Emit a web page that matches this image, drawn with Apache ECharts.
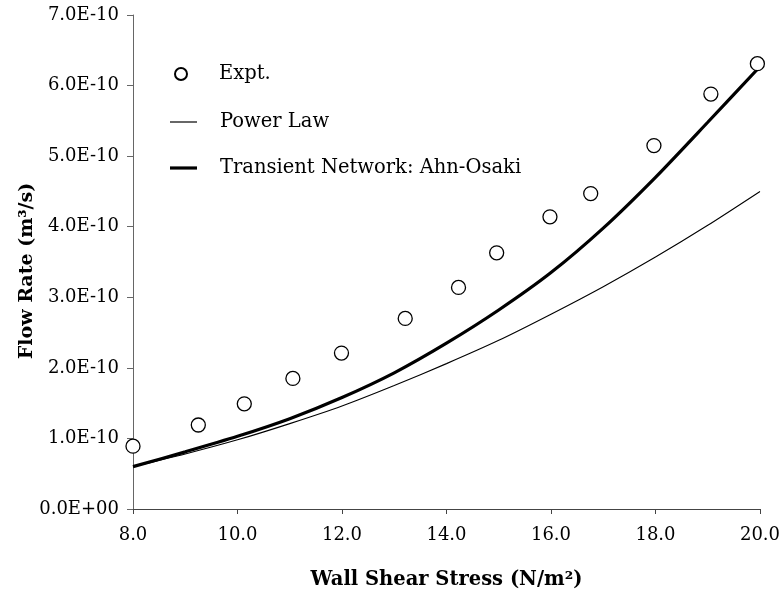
<!DOCTYPE html>
<html>
<head>
<meta charset="utf-8">
<script src="https://cdn.jsdelivr.net/npm/echarts@6/dist/echarts.min.js"></script>
<style>
html,body{margin:0;padding:0;background:#fff;}
#chart{width:782px;height:591px;}
</style>
</head>
<body>
<div id="chart"></div>
<script>
// Experimental data (Wall shear stress N/m^2, flow rate m^3/s)
const exptX = [8.0, 9.25, 10.13, 11.06, 11.99, 13.21, 14.23, 14.96, 15.98, 16.76, 17.97, 19.06, 19.95];
const exptY = [0.89e-10, 1.19e-10, 1.49e-10, 1.85e-10, 2.21e-10, 2.70e-10, 3.14e-10, 3.63e-10, 4.14e-10, 4.47e-10, 5.15e-10, 5.88e-10, 6.31e-10];

// Model curves
const modelX = [8, 9, 10, 11, 12, 13, 14, 15, 16, 17, 18, 19, 20];
const powerLawY = [0.60e-10, 0.78e-10, 0.98e-10, 1.21e-10, 1.46e-10, 1.75e-10, 2.06e-10, 2.39e-10, 2.76e-10, 3.15e-10, 3.57e-10, 4.02e-10, 4.50e-10];
const transientY = [0.60e-10, 0.81e-10, 1.03e-10, 1.28e-10, 1.58e-10, 1.93e-10, 2.35e-10, 2.82e-10, 3.35e-10, 3.98e-10, 4.70e-10, 5.48e-10, 6.27e-10];

const seriesNames = ['Expt.', 'Power Law', 'Transient Network: Ahn-Osaki'];

const FONT = 'DejaVu Serif';

function sci(v) {
  if (Math.abs(v) < 1e-20) return '0.0E+00';
  const s = v.toExponential(1);
  const parts = s.split('e');
  let e = parseInt(parts[1], 10);
  const sign = e < 0 ? '-' : '+';
  e = Math.abs(e);
  return parts[0] + 'E' + sign + (e < 10 ? '0' + e : String(e));
}

const chart = echarts.init(document.getElementById('chart'), null, {renderer: 'canvas'});

const legendText = {fontFamily: FONT, fontSize: 19.5, color: '#000', padding: [0, 0, 0, 18]};

chart.setOption({
  backgroundColor: '#fff',
  animation: false,
  grid: {left: 133, right: 22, top: 15, bottom: 82, containLabel: false, outerBoundsMode: 'none'},
  legend: [
    {data: [seriesNames[0]], orient: 'vertical', left: 169, top: 59, itemWidth: 30, itemHeight: 12,
     textStyle: legendText},
    {data: [{name: seriesNames[1], icon: 'rect'}], orient: 'vertical', left: 165, top: 107, itemWidth: 27, itemHeight: 1.2,
     itemStyle: {color: '#000'}, textStyle: legendText},
    {data: [{name: seriesNames[2], icon: 'rect'}], orient: 'vertical', left: 165, top: 153, itemWidth: 27, itemHeight: 3.2,
     itemStyle: {color: '#000'}, textStyle: legendText}
  ],
  xAxis: {
    type: 'value', min: 8, max: 20, interval: 2,
    name: 'Wall Shear Stress (N/m²)', nameLocation: 'middle', nameGap: 61, nameMoveOverlap: false,
    nameTextStyle: {fontFamily: FONT, fontSize: 19.5, fontWeight: 'bold', color: '#000'},
    axisLine: {lineStyle: {color: '#444', width: 1}},
    axisTick: {show: true, inside: false, length: 5, lineStyle: {color: '#444'}},
    axisLabel: {fontFamily: FONT, fontSize: 18, color: '#000', margin: 17, formatter: v => v.toFixed(1)},
    splitLine: {show: false}
  },
  yAxis: {
    type: 'value', min: 0, max: 7e-10, interval: 1e-10,
    name: 'Flow Rate (m³/s)', nameLocation: 'middle', nameGap: 96, nameRotate: 90, nameMoveOverlap: false,
    nameTextStyle: {fontFamily: FONT, fontSize: 19, fontWeight: 'bold', color: '#000', padding: [0, 18, 0, 0]},
    axisLine: {show: true, lineStyle: {color: '#666', width: 1}},
    axisTick: {show: true, inside: false, length: 6, lineStyle: {color: '#666'}},
    axisLabel: {fontFamily: FONT, fontSize: 18, color: '#000', margin: 14, formatter: v => sci(v)},
    splitLine: {show: false}
  },
  series: [
    {
      name: seriesNames[2], type: 'line', smooth: 0.25, showSymbol: false, symbol: 'none',
      data: modelX.map((x, i) => [x, transientY[i]]),
      lineStyle: {color: '#000', width: 3.2}, itemStyle: {color: '#000'}, z: 3
    },
    {
      name: seriesNames[1], type: 'line', smooth: 0.25, showSymbol: false, symbol: 'none',
      data: modelX.map((x, i) => [x, powerLawY[i]]),
      lineStyle: {color: '#000', width: 1.1}, itemStyle: {color: '#000'}, z: 2
    },
    {
      name: seriesNames[0], type: 'scatter', symbol: 'circle', symbolSize: 14,
      data: exptX.map((x, i) => [x, exptY[i]]),
      itemStyle: {color: '#fff', borderColor: '#000', borderWidth: 1.3, opacity: 1}, z: 4
    }
  ]
});
</script>
</body>
</html>
